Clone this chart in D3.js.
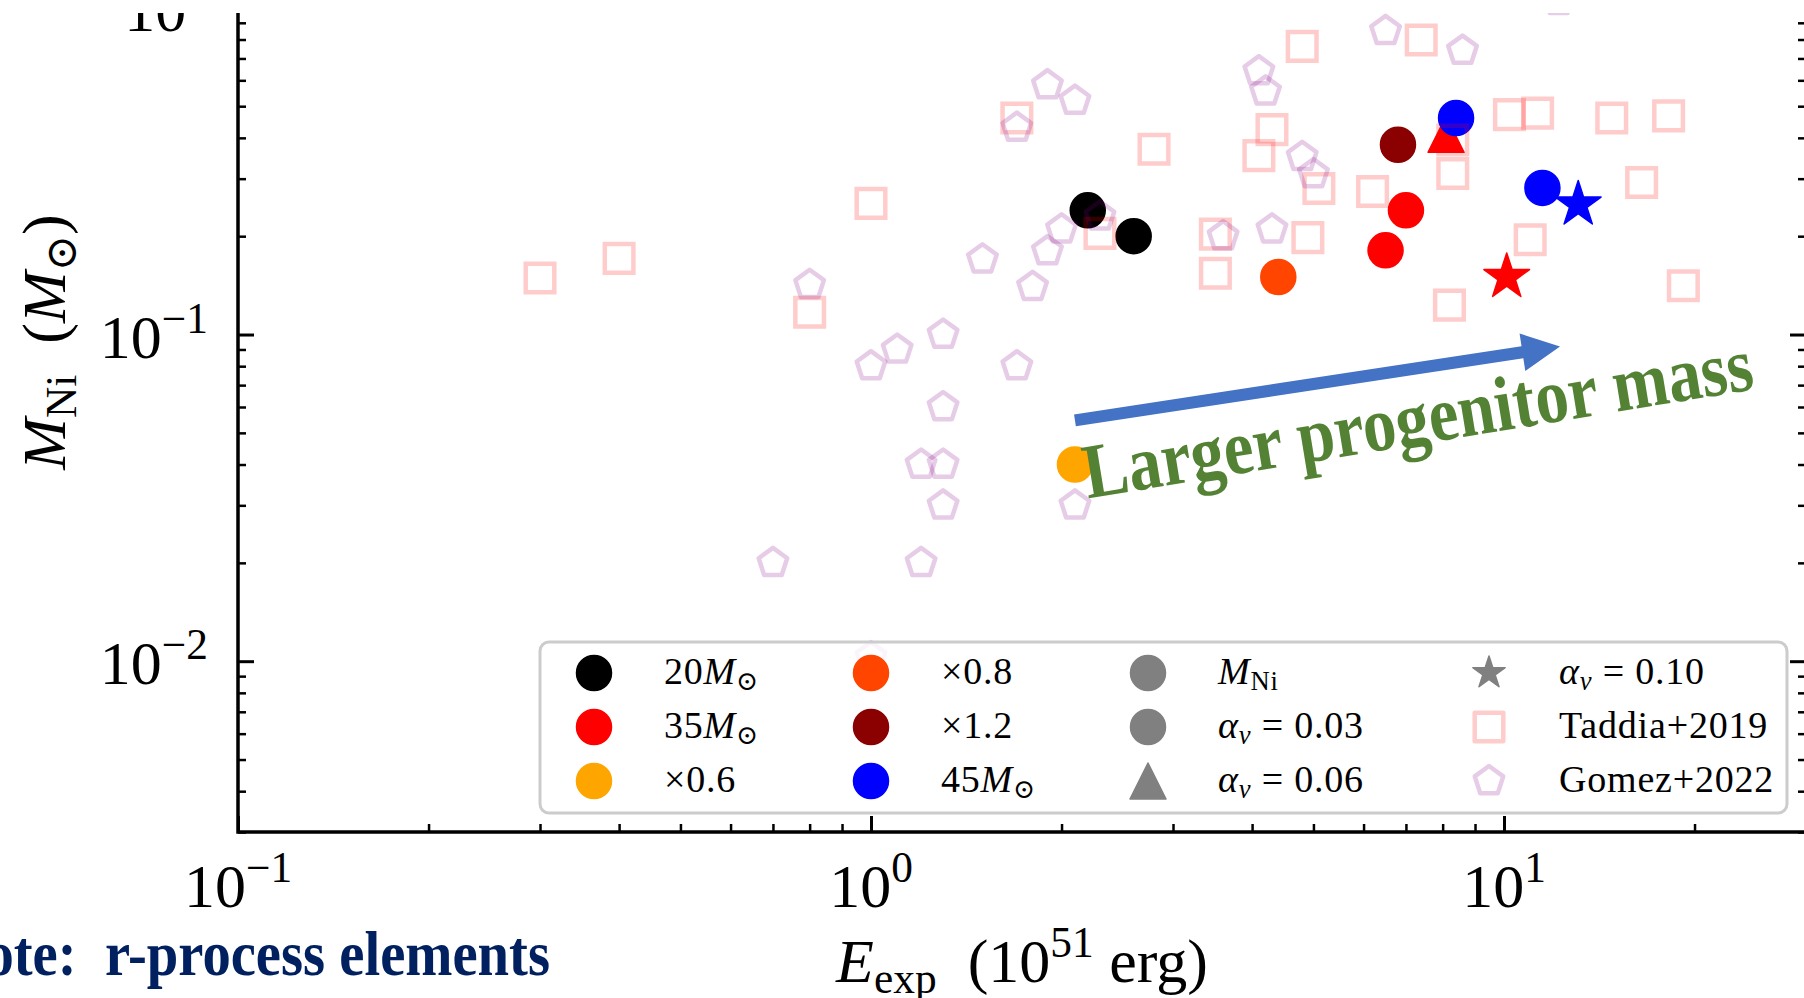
<!DOCTYPE html>
<html>
<head>
<meta charset="utf-8">
<script src="https://cdn.jsdelivr.net/npm/d3@7"></script>
<style>
  body { margin: 0; background: #fff; }
  svg { display: block; }
  text { font-family: "Liberation Serif", "DejaVu Serif", serif; white-space: pre; }
</style>
</head>
<body>
<svg class="mni" width="1804" height="998"></svg>
<script>
// observed SNe (E_exp in 1e51 erg, M_Ni in Msun)
const taddiaE  = [0.30, 0.40, 0.80, 1.00, 1.70, 2.30, 2.80, 3.50, 3.50, 4.10, 4.30, 4.80, 4.90,
                  5.10, 6.20, 7.40, 8.20, 8.30, 8.30, 10.2, 11.3, 11.0, 14.8, 18.2, 16.5, 19.2];
const taddiaNi = [0.149, 0.171, 0.117, 0.252, 0.46, 0.204, 0.369, 0.203, 0.154, 0.353, 0.424, 0.762, 0.198,
                  0.280, 0.274, 0.797, 0.123, 0.394, 0.311, 0.471, 0.476, 0.195, 0.46, 0.467, 0.292, 0.141];
const gomezE  = [1.9, 2.1, 1.7, 0.8, 1.5, 2.0, 1.9, 1.8, 2.3, 1.3, 1.1, 1.0, 1.7, 1.3, 1.2,
                 1.3, 1.3, 2.1, 0.7, 1.2, 6.5, 8.6, 4.1, 4.2, 4.8, 5.0, 3.6, 4.3, 12.2, 1.0];
const gomezNi = [0.58, 0.52, 0.43, 0.142, 0.17, 0.21, 0.18, 0.14, 0.23, 0.10, 0.09, 0.08, 0.08, 0.06, 0.04,
                 0.04, 0.03, 0.03, 0.02, 0.02, 0.85, 0.74, 0.64, 0.555, 0.35, 0.31, 0.20, 0.21, 1.05, 0.0103];

// model explosions
const modelE     = [2.2, 2.6, 2.1, 4.4, 7.0, 6.5, 6.8, 8.1, 8.4, 11.5, 10.1, 13.1];
const modelNi    = [0.240, 0.200, 0.040, 0.150, 0.240, 0.181, 0.381, 0.41, 0.46, 0.281, 0.150, 0.250];
const modelColor = ["black", "black", "orange", "orangered", "red", "red", "darkred",
                    "red", "blue", "blue", "red", "blue"];
const modelShape = ["circle", "circle", "circle", "circle", "circle", "circle", "circle",
                    "triangle", "circle", "circle", "star", "star"];

// tick values
const xMajor = [0.1, 1, 10];
const xMinor = [0.2, 0.3, 0.4, 0.5, 0.6, 0.7, 0.8, 0.9, 2, 3, 4, 5, 6, 7, 8, 9, 20, 30];
const xMajorLabels = ["−1", "0", "1"];
const yMajor = [0.01, 0.1, 1];
const yMinor = [0.003, 0.004, 0.005, 0.006, 0.007, 0.008, 0.009,
                0.02, 0.03, 0.04, 0.05, 0.06, 0.07, 0.08, 0.09,
                0.2, 0.3, 0.4, 0.5, 0.6, 0.7, 0.8, 0.9, 2, 3];
const yMajorLabels = ["−2", "−1", "0"];

// legend (column-major, 3 rows)
const legendLabels = [
  [["20", "n"], ["M", "i"], ["⊙", "s"]],
  [["35", "n"], ["M", "i"], ["⊙", "s"]],
  [["×0.6", "n"]],
  [["×0.8", "n"]],
  [["×1.2", "n"]],
  [["45", "n"], ["M", "i"], ["⊙", "s"]],
  [["M", "i"], ["Ni", "s"]],
  [["α", "i"], ["ν", "si"], [" = 0.03", "n"]],
  [["α", "i"], ["ν", "si"], [" = 0.06", "n"]],
  [["α", "i"], ["ν", "si"], [" = 0.10", "n"]],
  [["Taddia+2019", "n"]],
  [["Gomez+2022", "n"]]
];
const legendColor = ["black", "red", "orange", "orangered", "darkred", "blue",
                     "gray", "gray", "gray", "gray", "red", "purple"];
const legendShape = ["circle", "circle", "circle", "circle", "circle", "circle",
                     "circle", "circle", "triangle", "star", "square", "pentagon"];

let svg = d3.select("svg.mni");

// axes box; the figure is cropped so the top spine lies above the picture
let box = {left: 238, right: 1806, top: -148, bottom: 832};

let xScale = d3.scaleLog().domain([0.1, 30]).range([box.left, box.right]);
let yScale = d3.scaleLog().domain([0.003, 3]).range([box.bottom, box.top]);

svg.append("defs").append("clipPath")
    .attr("id", "plotclip")
    .append("rect")
    .attr("x", box.left).attr("y", box.top)
    .attr("width", box.right - box.left)
    .attr("height", box.bottom - box.top);

// marker shapes, sized like matplotlib's
function markerPath(shape, r) {
    if (shape === "circle") return d3.symbol(d3.symbolCircle, Math.PI * r * r)();
    let pts;
    if (shape === "square") pts = [[-r, -r], [r, -r], [r, r], [-r, r]];
    else if (shape === "triangle") pts = [[0, -r], [r, r], [-r, r]];
    else if (shape === "pentagon") pts = d3.range(5).map(i => {
        let a = -Math.PI / 2 + i * 2 * Math.PI / 5;
        return [r * Math.cos(a), r * Math.sin(a)];
    });
    else pts = d3.range(10).map(i => {
        let a = -Math.PI / 2 + i * Math.PI / 5, rr = i % 2 ? r * 0.382 : r;
        return [rr * Math.cos(a), rr * Math.sin(a)];
    });
    return d3.line()(pts) + "Z";
}
const markerSize = {circle: 17.5, triangle: 18, star: 24, square: 14.3, pentagon: 15};

// text with sub/superscripts
function richText(sel, parts, size) {
    let shift = 0;
    parts.forEach(([t, k]) => {
        let sub = (k === "s" || k === "si"), sup = (k === "p");
        let target = sub ? size * 0.17 : sup ? -size * 0.4 : 0;
        sel.append("tspan")
            .attr("dy", target - shift)
            .attr("font-size", (sub || sup) ? size * 0.7 : size)
            .attr("font-style", (k === "i" || k === "si") ? "italic" : "normal")
            .text(t);
        shift = target;
    });
}

// ticks (inward, all four sides)
let tickG = svg.append("g");
function ticks(axis, vals, len, width, tr) {
    let g = tickG.append("g")
        .attr("transform", tr)
        .call(axis.tickValues(vals).tickSizeInner(-len).tickSizeOuter(0).tickFormat(""));
    g.select(".domain").remove();
    g.selectAll(".tick line").attr("stroke", "black").attr("stroke-width", width);
}
ticks(d3.axisBottom(xScale), xMajor, 16, 3, "translate(0," + box.bottom + ")");
ticks(d3.axisBottom(xScale), xMinor, 8, 2.5, "translate(0," + box.bottom + ")");
ticks(d3.axisTop(xScale), xMajor, 16, 3, "translate(0," + box.top + ")");
ticks(d3.axisTop(xScale), xMinor, 8, 2.5, "translate(0," + box.top + ")");
ticks(d3.axisLeft(yScale), yMajor, 16, 3, "translate(" + box.left + ",0)");
ticks(d3.axisLeft(yScale), yMinor, 8, 2.5, "translate(" + box.left + ",0)");
ticks(d3.axisRight(yScale), yMajor, 16, 3, "translate(" + box.right + ",0)");
ticks(d3.axisRight(yScale), yMinor, 8, 2.5, "translate(" + box.right + ",0)");

// spines
svg.append("rect")
    .attr("x", box.left).attr("y", box.top)
    .attr("width", box.right - box.left)
    .attr("height", box.bottom - box.top)
    .attr("fill", "none")
    .attr("stroke", "black")
    .attr("stroke-width", 3.5);

// tick labels
xMajor.forEach((v, i) => {
    let t = svg.append("text")
        .attr("x", xScale(v))
        .attr("y", box.bottom + 75)
        .attr("text-anchor", "middle")
        .attr("font-size", 62);
    richText(t, [["10", "n"], [xMajorLabels[i], "p"]], 62);
});
yMajor.forEach((v, i) => {
    let t = svg.append("text")
        .attr("x", box.left - 30)
        .attr("y", yScale(v) + 23)
        .attr("text-anchor", "end")
        .attr("font-size", 62);
    richText(t, [["10", "n"], [yMajorLabels[i], "p"]], 62);
});

// axis labels
let xl = svg.append("text")
    .attr("x", (box.left + box.right) / 2)
    .attr("y", 982)
    .attr("text-anchor", "middle")
    .attr("font-size", 62);
richText(xl, [["E", "i"], ["exp", "s"], ["  (10", "n"], ["51", "p"], [" erg)", "n"]], 62);

let yl = svg.append("text")
    .attr("transform", "translate(65," + ((box.top + box.bottom) / 2) + ") rotate(-90)")
    .attr("text-anchor", "middle")
    .attr("font-size", 62);
richText(yl, [["M", "i"], ["Ni", "s"], ["  (", "n"], ["M", "i"], ["⊙", "s"], [")", "n"]], 62);

// points
let plot = svg.append("g").attr("clip-path", "url(#plotclip)");

plot.selectAll(".model")
    .data(modelE.map((e, i) => i))
    .join("path")
    .attr("class", "model")
    .attr("transform", i => "translate(" + xScale(modelE[i]) + "," + yScale(modelNi[i]) + ")")
    .attr("d", i => markerPath(modelShape[i], markerSize[modelShape[i]]))
    .attr("fill", i => modelColor[i])
    .attr("stroke", i => modelColor[i])
    .attr("stroke-width", 1.5)
    .attr("stroke-linejoin", "round");

plot.selectAll(".taddia")
    .data(taddiaE.map((e, i) => [e, taddiaNi[i]]))
    .join("path")
    .attr("class", "taddia")
    .attr("transform", d => "translate(" + xScale(d[0]) + "," + yScale(d[1]) + ")")
    .attr("d", markerPath("square", markerSize.square))
    .attr("fill", "none")
    .attr("stroke", "red")
    .attr("stroke-opacity", 0.2)
    .attr("stroke-width", 4.5);

plot.selectAll(".gomez")
    .data(gomezE.map((e, i) => [e, gomezNi[i]]))
    .join("path")
    .attr("class", "gomez")
    .attr("transform", d => "translate(" + xScale(d[0]) + "," + yScale(d[1]) + ")")
    .attr("d", markerPath("pentagon", markerSize.pentagon))
    .attr("fill", "none")
    .attr("stroke", "purple")
    .attr("stroke-opacity", 0.2)
    .attr("stroke-width", 4.5)
    .attr("stroke-linejoin", "round");

// legend
let leg = svg.append("g").attr("transform", "translate(540,642)");
leg.append("rect")
    .attr("x", 0).attr("y", 0)
    .attr("width", 1247).attr("height", 171)
    .attr("rx", 9)
    .attr("fill", "white").attr("fill-opacity", 0.8)
    .attr("stroke", "#cccccc").attr("stroke-width", 3);

let legendColX = [54, 331, 608, 949];
legendLabels.forEach((lab, i) => {
    let col = Math.floor(i / 3), row = i % 3;
    let mx = legendColX[col], my = 31 + row * 54;
    let shape = legendShape[i];
    let obs = (shape === "square" || shape === "pentagon");
    leg.append("path")
        .attr("transform", "translate(" + mx + "," + my + ")")
        .attr("d", markerPath(shape, shape === "star" ? 17 : markerSize[shape]))
        .attr("fill", obs ? "none" : legendColor[i])
        .attr("stroke", legendColor[i])
        .attr("stroke-opacity", obs ? 0.2 : 1)
        .attr("stroke-width", obs ? 4.5 : 1.5)
        .attr("stroke-linejoin", "round");
    let t = leg.append("text")
        .attr("x", mx + 70)
        .attr("y", my + 11)
        .attr("font-size", 38)
        .attr("letter-spacing", 0.8);
    richText(t, lab, 38);
});

// slide annotations
let aStart = [xScale(2.1), yScale(0.0546)],
    aTip = [xScale(12.26), yScale(0.0919)];
let aLen = Math.hypot(aTip[0] - aStart[0], aTip[1] - aStart[1]),
    aAng = Math.atan2(aTip[1] - aStart[1], aTip[0] - aStart[0]) * 180 / Math.PI;
svg.append("path")
    .attr("transform", "translate(" + aStart[0] + "," + aStart[1] + ") rotate(" + aAng + ")")
    .attr("d", d3.line()([[0, -6], [aLen - 38, -6], [aLen - 38, -19], [aLen, 0],
                          [aLen - 38, 19], [aLen - 38, 6], [0, 6]]) + "Z")
    .attr("fill", "#4472C4");

svg.append("text")
    .attr("transform", "translate(" + xScale(2.2) + "," + yScale(0.0315) + ") rotate(-9.3) scale(1.015,1.18)")
    .attr("font-size", 66)
    .attr("font-weight", "bold")
    .attr("fill", "#548235")
    .text("Larger progenitor mass");

svg.append("text")
    .attr("transform", "translate(550,975) scale(1.03,1.15)")
    .attr("text-anchor", "end")
    .attr("font-size", 55)
    .attr("font-weight", "bold")
    .attr("fill", "#002060")
    .text("Note:  r-process elements");

// picture is cropped: blank strip on top
svg.append("rect")
    .attr("x", 0).attr("y", 0)
    .attr("width", 1804).attr("height", 13)
    .attr("fill", "white");
</script>
</body>
</html>
